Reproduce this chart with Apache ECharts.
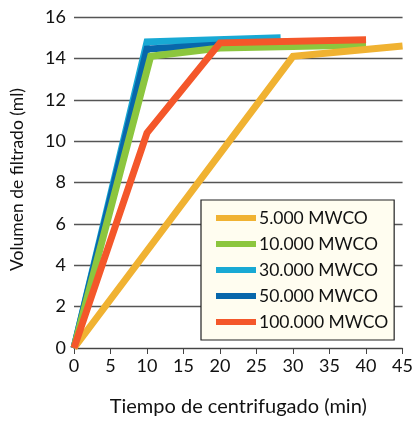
<!DOCTYPE html>
<html>
<head>
<meta charset="utf-8">
<script src="https://cdn.jsdelivr.net/npm/echarts@6/dist/echarts.min.js"></script>
<style>
  html, body { margin: 0; padding: 0; background: #fff; }
  #chart { width: 416px; height: 424px; }
</style>
</head>
<body>
<div id="chart"></div>
<script>
// series names
var names = ["5.000 MWCO", "10.000 MWCO", "30.000 MWCO", "50.000 MWCO", "100.000 MWCO"];
var colors = ["#f0b232", "#8cc63e", "#18a9d4", "#0867ab", "#f4572a"];

// time (min) and volume (ml) per series
var t5k = [0, 30, 45];
var v5k = [0, 14.1, 14.6];
var t10k = [0, 10.5, 20, 40];
var v10k = [0, 14.1, 14.5, 14.65];
var t30k = [0, 10, 28.3];
var v30k = [0, 14.8, 15.0];
var t50k = [0, 10, 20, 30];
var v50k = [0, 14.45, 14.65, 14.8];
var t100k = [0, 10, 20, 40];
var v100k = [0, 10.4, 14.75, 14.9];

function pairs(xs, ys) {
  var out = [];
  for (var i = 0; i < xs.length; i++) out.push([xs[i], ys[i]]);
  return out;
}

var font = "Lato";
var chart = echarts.init(document.getElementById("chart"));

// draw order: cyan, blue, green, yellow, orange on top
var order = [2, 3, 1, 0, 4];
var allData = [pairs(t5k, v5k), pairs(t10k, v10k), pairs(t30k, v30k), pairs(t50k, v50k), pairs(t100k, v100k)];

var series = order.map(function (i) {
  return {
    name: names[i],
    type: "line",
    data: allData[i],
    showSymbol: false,
    symbol: "none",
    lineStyle: { width: 7, color: colors[i], cap: "butt", join: "miter" },
    itemStyle: { color: colors[i] },
    z: 2,
    animation: false,
  };
});

chart.setOption({
  animation: false,
  grid: { left: 73.5, right: 12, top: 17, bottom: 76 },
  legend: {
    orient: "vertical",
    left: 201,
    top: 200,
    data: names,
    icon: "rect",
    itemWidth: 40,
    itemHeight: 6,
    itemGap: 8,
    padding: [9, 6, 9, 15],
    backgroundColor: "#fffdf0",
    borderColor: "#222",
    borderWidth: 1.2,
    textStyle: { fontFamily: font, fontSize: 17.5, color: "#111", padding: [0, 0, 0, -2] },
  },
  xAxis: {
    type: "value",
    min: 0,
    max: 45,
    interval: 5,
    name: "Tiempo de centrifugado (min)",
    nameLocation: "middle",
    nameGap: 49,
    nameTextStyle: { fontFamily: font, fontSize: 20, color: "#111" },
    axisLine: { show: true, lineStyle: { color: "#444", width: 1.2 } },
    axisTick: { show: true, length: 6, lineStyle: { color: "#444" } },
    axisLabel: { fontFamily: font, fontSize: 18, color: "#111", margin: 9 },
    splitLine: { show: false },
  },
  yAxis: {
    type: "value",
    min: 0,
    max: 16,
    interval: 2,
    name: "Volumen de filtrado (ml)",
    nameLocation: "middle",
    nameGap: 48,
    nameTextStyle: { fontFamily: font, fontSize: 17.5, color: "#111", padding: [0, 0, 0, 6] },
    axisLine: { show: false },
    axisTick: { show: false },
    axisLabel: { fontFamily: font, fontSize: 18, color: "#111", margin: 8 },
    splitLine: { show: true, lineStyle: { color: "#555", width: 1.3 } },
  },
  series: series,
});
</script>
</body>
</html>
